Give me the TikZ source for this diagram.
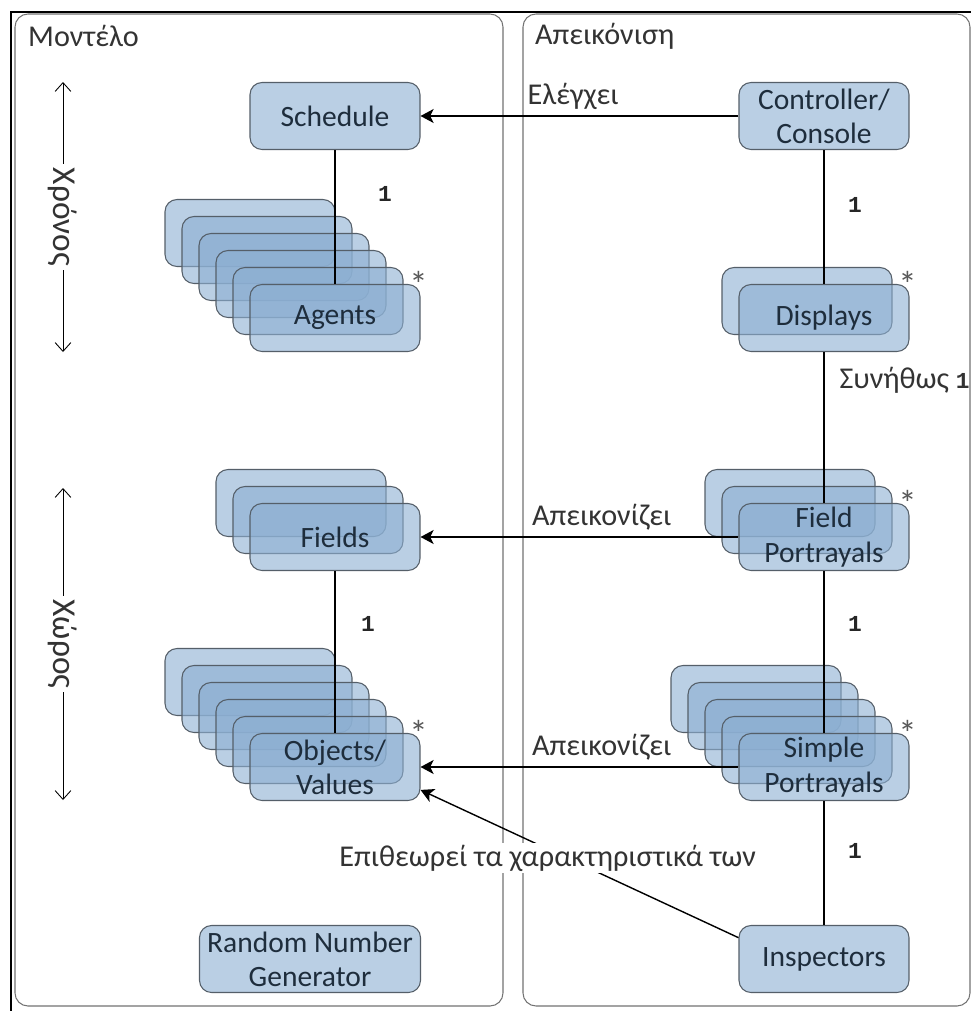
\documentclass[tikz,border=0pt]{standalone}
\usepackage{fontspec}
\setmainfont{Carlito}
\newfontfamily\monofont{Liberation Mono}
\usetikzlibrary{arrows.meta}

\definecolor{boxblue}{RGB}{140,175,210}
\definecolor{boxline}{RGB}{85,95,105}
\definecolor{textnavy}{RGB}{30,45,60}
\definecolor{panelgray}{RGB}{115,115,115}

\begin{document}
\begin{tikzpicture}[x=0.02cm,y=-0.02cm,
    box/.style={draw=boxline,line width=0.6pt,fill=boxblue,fill opacity=0.6,text opacity=1,
        rounded corners=0.24cm,minimum width=3.4cm,minimum height=1.34cm,inner sep=1pt,
        align=center,text=textnavy,font={\fontsize{16.8}{19.5}\selectfont}},
    lbl/.style={text=black!80,font={\fontsize{17.2}{20}\selectfont}},
    mult/.style={text=black!85,font={\monofont\bfseries\fontsize{13}{15}\selectfont}},
    star/.style={text=black!65,font={\fontsize{21}{24}\selectfont}},
    link/.style={line width=0.8pt},
    ctrl/.style={link,-{Stealth[length=7.5pt,width=8pt,inset=2pt]}},
    axis/.style={line width=0.5pt,{Straight Barb[length=5pt,width=9pt]}-{Straight Barb[length=5pt,width=9pt]}},
    panel/.style={draw=panelgray,line width=0.6pt,rounded corners=0.26cm}]
    \useasboundingbox (0,0) rectangle (971,1011);
    \fill[white] (0,0) rectangle (971,1011);

    % the two panels
    \draw[panel] (15,14) rectangle (503,1006);
    \draw[panel] (523,14) rectangle (970,1006);
    \draw[line width=1.5pt] (11,1011) -- (11,12) -- (971,12);
    \node[lbl,anchor=west] (model) at (22,36) {Μοντέλο};
    \node[lbl,anchor=west] (view) at (529,36) {Απεικόνιση};

    % time and space
    \coordinate (time top) at (63,82);
    \coordinate (time bot) at (63,352);
    \draw[axis] (time top) -- node[lbl,fill=white,rotate=-90,inner sep=2pt,font={\fontsize{19}{22}\selectfont}] {Χρόνος} (time bot);
    \coordinate (space top) at (63,488);
    \coordinate (space bot) at (63,800);
    \draw[axis] (space top) -- node[lbl,fill=white,rotate=-90,inner sep=2pt,font={\fontsize{19}{22}\selectfont}] {Χώρος} (space bot);

    % model side
    \node[box] (schedule) at (335,116) {Schedule};
    \foreach \k in {5,4,3,2,1}
        \node[box] (agents\k) at ({335-17*\k},{318-17*\k}) {};
    \node[box] (agents) at (335,318) {Agents};
    \foreach \k in {2,1}
        \node[box] (fields\k) at ({335-17*\k},{537-17*\k}) {};
    \node[box] (fields) at (335,537) {Fields};
    \foreach \k in {5,4,3,2,1}
        \node[box] (objects\k) at ({335-17*\k},{767-17*\k}) {};
    \node[box] (objects) at (335,767) {Objects/\\Values};
    \node[box,minimum width=4.42cm] (random) at (310,959) {Random Number\\Generator};

    % view side
    \node[box] (controller) at (824,116) {Controller/\\Console};
    \node[box] (displays1) at (807,301) {};
    \node[box] (displays) at (824,318) {Displays};
    \foreach \k in {2,1}
        \node[box] (fieldp\k) at ({824-17*\k},{537-17*\k}) {};
    \node[box] (fieldp) at (824,537) {Field\\Portrayals};
    \foreach \k in {4,3,2,1}
        \node[box] (simplep\k) at ({824-17*\k},{767-17*\k}) {};
    \node[box] (simplep) at (824,767) {Simple\\Portrayals};
    \node[box] (inspectors) at (824,959) {Inspectors};

    % links
    \draw[link] (schedule) -- node[mult,pos=0.33,xshift=1cm] {1} (agents);
    \draw[link] (fields) -- node[mult,pos=0.33,xshift=0.66cm] {1} (objects);
    \draw[link] (controller) -- node[mult,pos=0.41,xshift=0.62cm] {1} (displays);
    \draw[link] (displays) -- node[lbl,pos=0.19,anchor=west,xshift=0.18cm]
        {Συνήθως {\monofont\bfseries\fontsize{13}{15}\selectfont 1}} (fieldp);
    \draw[link] (fieldp) -- node[mult,pos=0.33,xshift=0.62cm] {1} (simplep);
    \draw[link] (simplep) -- node[mult,pos=0.4,xshift=0.62cm] {1} (inspectors);

    \draw[ctrl] (controller) -- node[lbl,above,pos=0.52] {Ελέγχει} (schedule);
    \draw[ctrl] (fieldp) -- node[lbl,above,pos=0.43] {Απεικονίζει} (fields);
    \draw[ctrl] (simplep) -- node[lbl,above,pos=0.43] {Απεικονίζει} (objects);
    \draw[ctrl] (inspectors.166) -- node[lbl,fill=white,inner sep=1pt,pos=0.6,yshift=-0.18cm]
        {Επιθεωρεί τα χαρακτηριστικά των} (objects.345);

    % multiplicities
    \foreach \n in {agents,displays,fieldp,objects,simplep}
        \node[star] (\n star) at ([shift={(-2,0)}]\n.north east) {*};
\end{tikzpicture}
\end{document}
